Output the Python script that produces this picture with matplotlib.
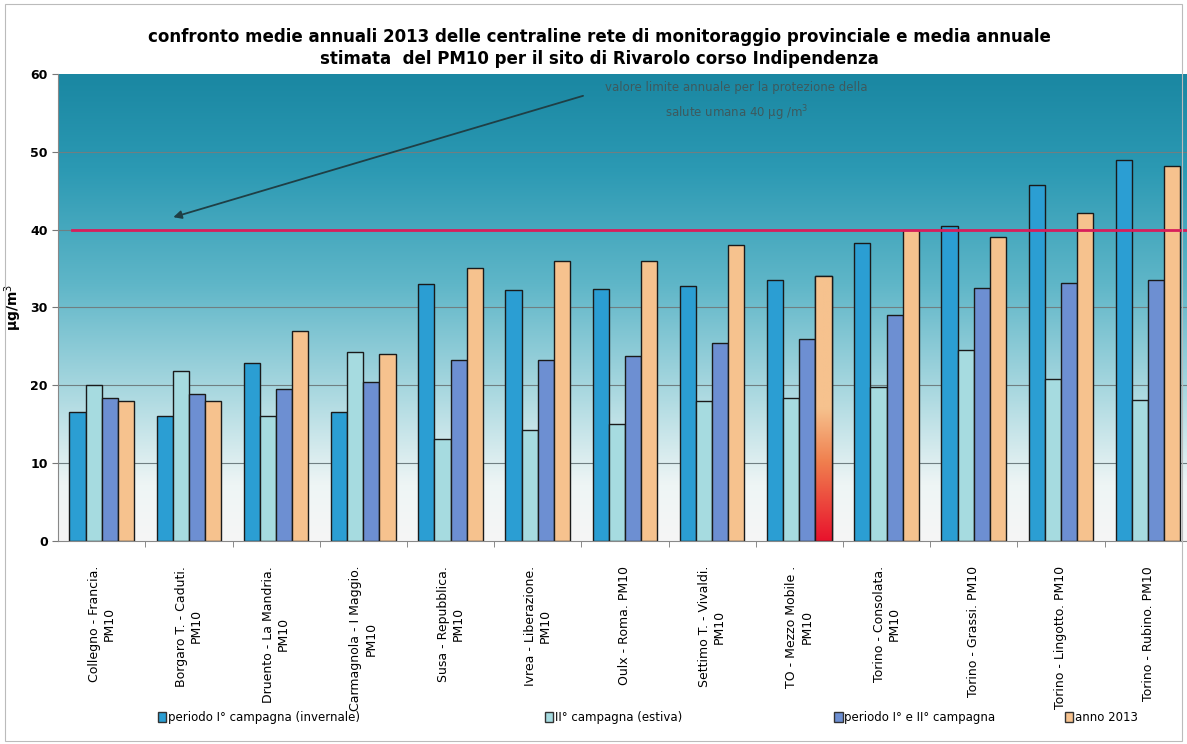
import numpy as np
import matplotlib
matplotlib.use("Agg")
import matplotlib.pyplot as plt
from matplotlib.colors import LinearSegmentedColormap
from matplotlib.patches import Patch, Rectangle

stazioni = [
    "Collegno - Francia.\nPM10", "Borgaro T. - Caduti.\nPM10", "Druento - La Mandria.\nPM10",
    "Carmagnola - I Maggio.\nPM10", "Susa - Repubblica.\nPM10", "Ivrea - Liberazione.\nPM10",
    "Oulx - Roma. PM10", "Settimo T. - Vivaldi.\nPM10", "TO - Mezzo Mobile .\nPM10",
    "Torino - Consolata.\nPM10", "Torino - Grassi. PM10", "Torino - Lingotto. PM10",
    "Torino - Rubino. PM10",
]
invernale = [16.6, 16.0, 22.9, 16.6, 33.0, 32.2, 32.4, 32.8, 33.5, 38.3, 40.5, 45.7, 48.9]
estiva = [20.0, 21.8, 16.0, 24.3, 13.1, 14.2, 15.0, 18.0, 18.4, 19.8, 24.5, 20.8, 18.1]
periodo = [18.3, 18.9, 19.5, 20.4, 23.2, 23.2, 23.7, 25.4, 25.9, 29.0, 32.5, 33.2, 33.5]
anno2013 = [18.0, 18.0, 27.0, 24.0, 35.1, 36.0, 36.0, 38.0, 34.1, 40.0, 39.1, 42.1, 48.2]
limite = 40

serie = [
    ("periodo I° campagna (invernale)", invernale, "#2b9ed3"),
    ("II° campagna (estiva)", estiva, "#a6dbe0"),
    ("periodo I° e II° campagna", periodo, "#6d8fd2"),
    ("anno 2013", anno2013, "#f6c28e"),
]
legend_x = [0.133, 0.459, 0.703, 0.897]

fig = plt.figure(figsize=(11.87, 7.44), dpi=100)
ax = fig.add_axes([0.049, 0.273, 0.955, 0.6275])

n = len(stazioni)
x = np.arange(n)
w = 0.185

# sfondo sfumato
bg = LinearSegmentedColormap.from_list(
    "bg", [(0, "#f6f6f6"), (0.12, "#eef5f5"), (0.3, "#b0dbe2"),
           (0.55, "#5fb6c8"), (0.8, "#2b99b3"), (1, "#1a87a2")])
ax.imshow(np.linspace(0, 1, 256).reshape(-1, 1), cmap=bg, aspect="auto",
          extent=[-0.5, n - 0.5, 0, 60], origin="lower", zorder=0)

for v in range(10, 60, 10):
    ax.axhline(v, color="#6f7f82", lw=0.8, zorder=1)

for k, (nome, vals, col) in enumerate(serie):
    bars = ax.bar(x + (k - 1.5) * w, vals, w, color=col, edgecolor="#1a1a1a",
                  lw=1.0, zorder=2, label=nome)
    if nome == "anno 2013":
        # la barra del mezzo mobile sfuma verso il rosso in basso
        b = bars.patches[8]
        red = LinearSegmentedColormap.from_list("r", [(0, "#e8122c"), (0.3, "#f0804f"), (0.5, col), (1, col)])
        im = ax.imshow(np.linspace(0, 1, 256).reshape(-1, 1), cmap=red, aspect="auto",
                       extent=[b.get_x(), b.get_x() + b.get_width(), 0, b.get_height()],
                       origin="lower", zorder=2.5)
        im.set_clip_path(b)
        ax.add_patch(Rectangle((b.get_x(), 0), b.get_width(), b.get_height(),
                               fill=False, edgecolor="#1a1a1a", lw=1.0, zorder=3))

ax.axhline(limite, xmin=0.012, xmax=1, color="#d81e5b", lw=2, zorder=4)

ax.annotate("", xy=(0.79, 41.5), xytext=(5.55, 57.3),
            arrowprops=dict(arrowstyle="-|>", color="#1f3f45", lw=1.3, mutation_scale=12), zorder=5)
ax.text(7.28, 56.4, "valore limite annuale per la protezione della\nsalute umana 40 µg /m$^3$",
        ha="center", va="center", fontsize=8.5, color="#3d5a5e", linespacing=1.7, zorder=5)

ax.set_xlim(-0.5, n - 0.5)
ax.set_ylim(0, 60)
ax.set_yticks(range(0, 61, 10))
ax.set_yticklabels([str(v) for v in range(0, 61, 10)], fontsize=9, fontweight="bold")
ax.set_xticks(x)
ax.set_xticklabels(stazioni, rotation=90, fontsize=9, va="top", ha="center")
ax.tick_params(axis="x", length=0, pad=18)
ax.set_xticks(np.arange(0.5, n - 0.5), minor=True)
ax.tick_params(axis="x", which="minor", length=4, direction="out", color="#777777")
ax.tick_params(axis="y", length=4, direction="out", color="#777777")
ax.set_ylabel("µg/m$^3$", fontsize=10, fontweight="bold")
ax.yaxis.set_label_coords(-0.03, 0.5)
for s in ["top", "right"]:
    ax.spines[s].set_visible(False)
ax.spines["left"].set_color("#888888")
ax.spines["bottom"].set_color("#888888")

fig.text(0.505, 0.935, "confronto medie annuali 2013 delle centraline rete di monitoraggio provinciale e media annuale\n"
         "stimata  del PM10 per il sito di Rivarolo corso Indipendenza",
         ha="center", va="center", fontsize=12, fontweight="bold", linespacing=1.3)

for (nm, _, c), lx in zip(serie, legend_x):
    fig.legend(handles=[Patch(facecolor=c, edgecolor="#333333", label=nm)], loc="center left",
               bbox_to_anchor=(lx, 0.035), frameon=False, fontsize=8.5, handlelength=0.7,
               handleheight=0.9, handletextpad=0.15, borderaxespad=0, borderpad=0)

fig.add_artist(Rectangle((0.004, 0.004), 0.992, 0.99, transform=fig.transFigure,
                         fill=False, edgecolor="#bbbbbb", lw=0.8))

fig.savefig("out.png", dpi=100)
